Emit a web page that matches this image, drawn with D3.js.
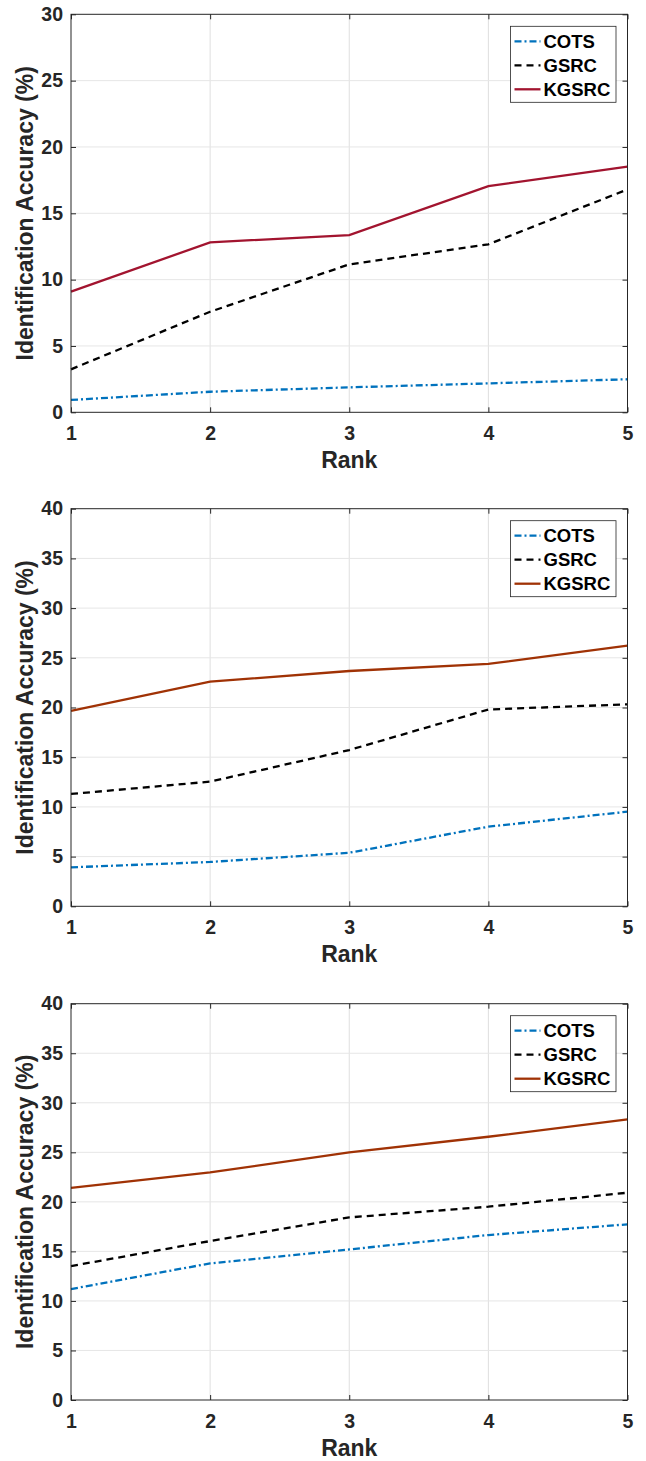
<!DOCTYPE html>
<html>
<head>
<meta charset="utf-8">
<script src="https://cdn.jsdelivr.net/npm/d3@7"></script>
<style>
  body { margin: 0; background: #fff; }
  svg text { font-family: "Liberation Sans", Arial, Helvetica, sans-serif; font-weight: bold; fill: #262626; }
</style>
</head>
<body>
<svg width="646" height="1461"></svg>
<script>
const svg = d3.select("svg");

// Data
const ranks = [1, 2, 3, 4, 5];
const seriesNames = ["COTS", "GSRC", "KGSRC"];

const cots1 = [0.93, 1.55, 1.88, 2.18, 2.49];
const gsrc1 = [3.24, 7.58, 11.15, 12.66, 16.8];
const kgsrc1 = [9.09, 12.81, 13.36, 17.05, 18.51];

const cots2 = [3.92, 4.46, 5.39, 8.01, 9.52];
const gsrc2 = [11.3, 12.54, 15.72, 19.8, 20.32];
const kgsrc2 = [19.65, 22.6, 23.67, 24.38, 26.22];

const cots3 = [11.2, 13.79, 15.2, 16.65, 17.73];
const gsrc3 = [13.52, 16.04, 18.43, 19.51, 20.92];
const kgsrc3 = [21.42, 22.97, 24.99, 26.57, 28.32];

const yMax = [30, 40, 40];

const panels = [
  { top: 14.3, bottom: 412.3, yMax: yMax[0], series: [cots1, gsrc1, kgsrc1], kColor: "#A2142F" },
  { top: 508.7, bottom: 906.3, yMax: yMax[1], series: [cots2, gsrc2, kgsrc2], kColor: "#A03205" },
  { top: 1003.7, bottom: 1400, yMax: yMax[2], series: [cots3, gsrc3, kgsrc3], kColor: "#A03205" }
];

const left = 71, right = 627.5;
const axisColor = "#262626";

panels.forEach(p => {
  const x = d3.scaleLinear().domain([1, 5]).range([left, right]);
  const y = d3.scaleLinear().domain([0, p.yMax]).range([p.bottom, p.top]);
  const g = svg.append("g");
  const colors = ["#0072BD", "#000000", p.kColor];
  const dashes = ["7,3,2,3", "7,5", null];
  const yTicks = d3.range(0, p.yMax + 1, 5);

  // grid
  g.selectAll(".gx").data(ranks.slice(1, -1)).join("line")
    .attr("x1", d => x(d)).attr("x2", d => x(d))
    .attr("y1", p.top).attr("y2", p.bottom)
    .attr("stroke", "#dfdfdf").attr("stroke-width", 1);
  g.selectAll(".gy").data(yTicks.slice(1, -1)).join("line")
    .attr("y1", d => y(d)).attr("y2", d => y(d))
    .attr("x1", left).attr("x2", right)
    .attr("stroke", "#e6e6e6").attr("stroke-width", 1);

  // lines
  const line = d3.line().x((d, i) => x(ranks[i])).y(d => y(d));
  p.series.forEach((s, i) => {
    g.append("path").datum(s)
      .attr("d", line)
      .attr("fill", "none")
      .attr("stroke", colors[i])
      .attr("stroke-width", 2.3)
      .attr("stroke-dasharray", dashes[i]);
  });

  // box
  g.append("rect").attr("x", left).attr("y", p.top)
    .attr("width", right - left).attr("height", p.bottom - p.top)
    .attr("fill", "none").attr("stroke", axisColor).attr("stroke-width", 1);

  // axes with inward ticks
  const xAxis = g.append("g").attr("transform", `translate(0,${p.bottom})`)
    .call(d3.axisBottom(x).tickValues(ranks).tickFormat(d3.format("d")).tickSizeInner(-5).tickSizeOuter(0).tickPadding(14));
  const xTop = g.append("g").attr("transform", `translate(0,${p.top})`)
    .call(d3.axisTop(x).tickValues(ranks).tickFormat("").tickSizeInner(-5).tickSizeOuter(0));
  const yAxis = g.append("g").attr("transform", `translate(${left},0)`)
    .call(d3.axisLeft(y).tickValues(yTicks).tickSizeInner(-5).tickSizeOuter(0).tickPadding(8));
  const yRight = g.append("g").attr("transform", `translate(${right},0)`)
    .call(d3.axisRight(y).tickValues(yTicks).tickFormat("").tickSizeInner(-5).tickSizeOuter(0));
  [xAxis, xTop, yAxis, yRight].forEach(a => {
    a.select(".domain").remove();
    a.selectAll(".tick line").attr("stroke", axisColor);
    a.selectAll("text").attr("font-size", 19.5).attr("fill", axisColor)
      .style("font-family", "'Liberation Sans', Arial, sans-serif").style("font-weight", "bold");
  });

  // labels
  g.append("text").attr("x", (left + right) / 2).attr("y", p.bottom + 56)
    .attr("text-anchor", "middle").attr("font-size", 23).text("Rank");
  g.append("text")
    .attr("transform", `translate(33,${(p.top + p.bottom) / 2}) rotate(-90)`)
    .attr("text-anchor", "middle").attr("font-size", 23).text("Identification Accuracy (%)");

  // legend
  const lg = g.append("g").attr("transform", `translate(510.5,${p.top + 12})`);
  lg.append("rect").attr("width", 105.5).attr("height", 76)
    .attr("fill", "#fff").attr("stroke", "#262626").attr("stroke-width", 0.8);
  seriesNames.forEach((name, i) => {
    const yy = 15 + i * 24;
    lg.append("line").attr("x1", 4).attr("x2", 30).attr("y1", yy).attr("y2", yy)
      .attr("stroke", colors[i]).attr("stroke-width", 2.3)
      .attr("stroke-dasharray", dashes[i]);
    lg.append("text").attr("x", 33).attr("y", yy + 6.6)
      .attr("font-size", 18.5).style("fill", "#000").text(name);
  });
});
</script>
</body>
</html>
